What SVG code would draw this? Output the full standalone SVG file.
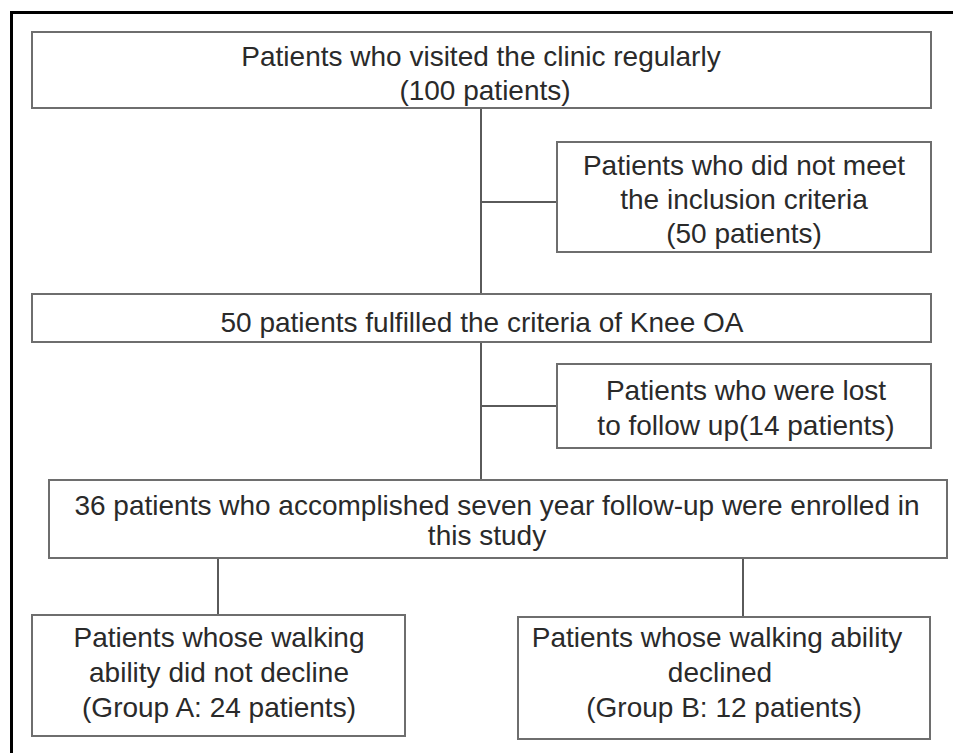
<svg xmlns="http://www.w3.org/2000/svg" width="953" height="753" viewBox="0 0 953 753">
<style>
.box{fill:#ffffff;stroke:#6e6e6e;stroke-width:2}
.t{font-family:"Liberation Sans",Arial,sans-serif;font-size:28px;fill:#2a2a2a;text-anchor:middle}
.c{stroke:#5a5a5a;stroke-width:2;fill:none}
</style>
<rect width="953" height="753" fill="#ffffff"/>
<path d="M11.5,753 L11.5,12.5 L953,12.5" fill="none" stroke="#000000" stroke-width="3"/>
<g id="connectors">
<line class="c" x1="481" y1="108" x2="481" y2="294"/>
<line class="c" x1="481" y1="202" x2="557" y2="202"/>
<line class="c" x1="481" y1="342" x2="481" y2="480"/>
<line class="c" x1="481" y1="406" x2="557" y2="406"/>
<line class="c" x1="218" y1="558" x2="218" y2="615"/>
<line class="c" x1="743" y1="558" x2="743" y2="617"/>
</g>
<g id="n1">
<rect class="box" x="32" y="32" width="899" height="76"/>
<text class="t" x="481" y="66">Patients who visited the clinic regularly</text>
<text class="t" x="485" y="100">(100 patients)</text>
</g>
<g id="n2">
<rect class="box" x="557" y="142" width="374" height="110"/>
<text class="t" x="744" y="175">Patients who did not meet</text>
<text class="t" x="744" y="209">the inclusion criteria</text>
<text class="t" x="744" y="243">(50 patients)</text>
</g>
<g id="n3">
<rect class="box" x="32" y="294" width="899" height="48"/>
<text class="t" x="482" y="332">50 patients fulfilled the criteria of Knee OA</text>
</g>
<g id="n4">
<rect class="box" x="557" y="364" width="374" height="84"/>
<text class="t" x="746" y="400">Patients who were lost</text>
<text class="t" x="746" y="435">to follow up(14 patients)</text>
</g>
<g id="n5">
<rect class="box" x="49" y="480" width="898" height="78"/>
<text class="t" x="497" y="515">36 patients who accomplished seven year follow-up were enrolled in</text>
<text class="t" x="487" y="545">this study</text>
</g>
<g id="n6">
<rect class="box" x="32" y="615" width="373" height="121"/>
<text class="t" x="219" y="647">Patients whose walking</text>
<text class="t" x="219" y="682">ability did not decline</text>
<text class="t" x="219" y="717">(Group A: 24 patients)</text>
</g>
<g id="n7">
<rect class="box" x="518" y="617" width="412" height="122"/>
<text class="t" x="717" y="647">Patients whose walking ability</text>
<text class="t" x="720" y="682">declined</text>
<text class="t" x="724" y="717">(Group B: 12 patients)</text>
</g>
</svg>
